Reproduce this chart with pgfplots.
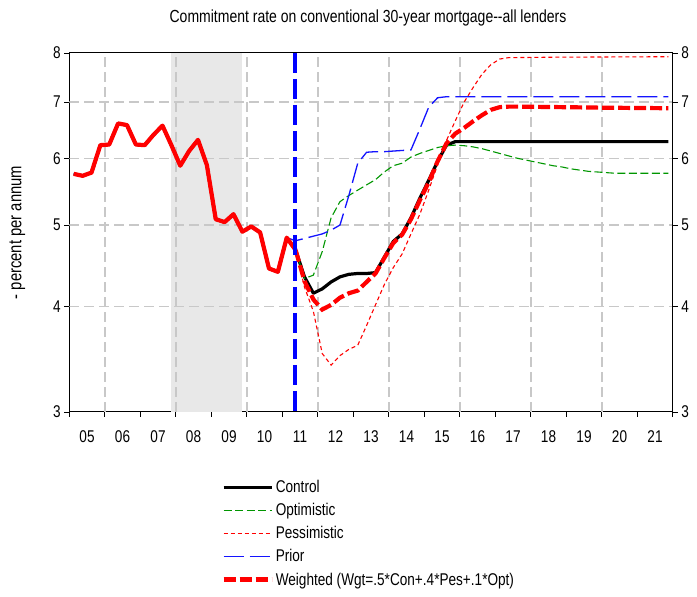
\documentclass[border=0pt]{standalone}
\usepackage{fontspec}
\setmainfont{Liberation Sans}[FakeStretch=0.8]
\usepackage{pgfplots}
\pgfplotsset{compat=1.18}
\definecolor{optgreen}{RGB}{0,150,0}
\definecolor{gridgray}{RGB}{200,200,200}
\definecolor{shadegray}{RGB}{232,232,232}
\definecolor{priorblue}{RGB}{20,20,255}
\begin{document}
\begin{tikzpicture}
\begin{axis}[
  width=603.5pt, height=359pt, scale only axis,
  xmin=2005, xmax=2022, ymin=3, ymax=8, ymode=log,
  xtick={2005,2006,...,2022},
  xticklabels={05,06,07,08,09,10,11,12,13,14,15,16,17,18,19,20,21,{}},
  x tick label as interval,
  minor x tick num=3,
  xtick pos=left, ytick pos=left,
  tick align=outside,
  major tick length=5pt, minor tick length=5pt,
  ytick={3,4,5,6,7,8}, yticklabels={3,4,5,6,7,8},
  yminorticks=false,
  tick style={black, line width=0.8pt},
  axis line style={line width=1pt},
  tick label style={font=\fontsize{17}{17}\selectfont},
  xticklabel style={yshift=-10pt},
  title={Commitment rate on conventional 30-year mortgage{-}{-}all lenders},
  title style={at={(0.5,1)}, anchor=base, yshift=24pt, xshift=-3pt, font=\fontsize{17.5}{17.5}\selectfont},
  ylabel={- percent per annum},
  ylabel style={at={(axis description cs:-0.086,0.5)}, anchor=center, font=\fontsize{18.5}{18.5}\selectfont},
  legend style={at={(0.252,-0.185)}, anchor=north west, draw=none, fill=none, inner sep=0pt,
    font=\fontsize{17}{17}\selectfont, row sep=5.2pt,
    /tikz/every even column/.append style={column sep=2pt}},
  legend cell align=left,
  legend image code/.code={\draw[#1, line cap=butt] (0pt,0pt) -- (48pt,0pt);},
]
% recession shading
\fill[shadegray] (axis cs:2007.875,3) rectangle (axis cs:2009.875,8);
% grid
\foreach \yy in {4,5,6,7} {
  \edef\temp{\noexpand\draw[gridgray, line width=1.5pt, dash pattern=on 10pt off 5pt] (axis cs:2005,\yy) -- (axis cs:2022,\yy);}
  \temp
}
\foreach \xx in {2006,2008,2010,2012,2014,2016,2018,2020} {
  \edef\temp{\noexpand\draw[gridgray, line width=1.5pt, dash pattern=on 10pt off 5pt] (axis cs:\xx,3) -- (axis cs:\xx,8);}
  \temp
}
% Control
\addplot[color=black, line width=3.2pt, line join=round] coordinates {
(2005.125,5.75) (2005.375,5.72) (2005.625,5.77) (2005.875,6.22) (2006.125,6.23) (2006.375,6.60) (2006.625,6.57) (2006.875,6.23) (2007.125,6.22) (2007.375,6.40) (2007.625,6.56) (2007.875,6.22) (2008.125,5.88) (2008.375,6.12) (2008.625,6.31) (2008.875,5.89) (2009.125,5.08) (2009.375,5.04) (2009.625,5.15) (2009.875,4.91) (2010.125,4.98) (2010.375,4.90) (2010.625,4.44) (2010.875,4.40) (2011.125,4.83) (2011.375,4.67)
(2011.625,4.34) (2011.875,4.15) (2012.125,4.20) (2012.375,4.28) (2012.625,4.34) (2012.875,4.37) (2013.125,4.38) (2013.375,4.38) (2013.625,4.39) (2013.875,4.58) (2014.125,4.78) (2014.375,4.88) (2014.625,5.10) (2014.875,5.38) (2015.125,5.65) (2015.375,5.95) (2015.625,6.22) (2015.875,6.28) (2016.125,6.28) (2018.125,6.28) (2020.125,6.28) (2021.875,6.28)
};
\addlegendentry{Control}
% Optimistic
\addplot[color=optgreen, line width=1.1pt, dash pattern=on 8pt off 3.5pt] coordinates {
(2005.125,5.75) (2005.375,5.72) (2005.625,5.77) (2005.875,6.22) (2006.125,6.23) (2006.375,6.60) (2006.625,6.57) (2006.875,6.23) (2007.125,6.22) (2007.375,6.40) (2007.625,6.56) (2007.875,6.22) (2008.125,5.88) (2008.375,6.12) (2008.625,6.31) (2008.875,5.89) (2009.125,5.08) (2009.375,5.04) (2009.625,5.15) (2009.875,4.91) (2010.125,4.98) (2010.375,4.90) (2010.625,4.44) (2010.875,4.40) (2011.125,4.83) (2011.375,4.67)
(2011.625,4.32) (2011.875,4.36) (2012.125,4.65) (2012.375,5.10) (2012.625,5.33) (2012.875,5.42) (2013.125,5.50) (2013.375,5.58) (2013.625,5.66) (2013.875,5.78) (2014.125,5.88) (2014.375,5.92) (2014.625,6.02) (2014.875,6.08) (2015.125,6.13) (2015.375,6.18) (2015.625,6.21) (2015.875,6.22) (2016.125,6.21) (2016.375,6.19) (2016.625,6.16) (2016.875,6.12) (2017.125,6.08) (2017.375,6.04) (2017.625,6.00) (2017.875,5.97) (2018.125,5.94) (2018.375,5.91) (2018.625,5.88) (2018.875,5.86) (2019.125,5.83) (2019.375,5.81) (2019.625,5.79) (2019.875,5.78) (2020.125,5.77) (2020.375,5.76) (2021.875,5.76)
};
\addlegendentry{Optimistic}
% Pessimistic
\addplot[color=red, line width=1.1pt, dash pattern=on 4pt off 3pt] coordinates {
(2005.125,5.75) (2005.375,5.72) (2005.625,5.77) (2005.875,6.22) (2006.125,6.23) (2006.375,6.60) (2006.625,6.57) (2006.875,6.23) (2007.125,6.22) (2007.375,6.40) (2007.625,6.56) (2007.875,6.22) (2008.125,5.88) (2008.375,6.12) (2008.625,6.31) (2008.875,5.89) (2009.125,5.08) (2009.375,5.04) (2009.625,5.15) (2009.875,4.91) (2010.125,4.98) (2010.375,4.90) (2010.625,4.44) (2010.875,4.40) (2011.125,4.83) (2011.375,4.67)
(2011.625,4.22) (2011.875,3.95) (2012.125,3.52) (2012.375,3.41) (2012.625,3.50) (2012.875,3.56) (2013.125,3.60) (2013.375,3.80) (2013.625,4.02) (2013.875,4.25) (2014.125,4.45) (2014.375,4.62) (2014.625,4.88) (2014.875,5.15) (2015.125,5.50) (2015.375,5.90) (2015.625,6.30) (2015.875,6.65) (2016.125,7.00) (2016.375,7.28) (2016.625,7.55) (2016.875,7.75) (2017.125,7.87) (2017.375,7.90) (2018.625,7.91) (2021.875,7.92)
};
\addlegendentry{Pessimistic}
% Prior
\addplot[color=priorblue, line width=1.3pt, dash pattern=on 20pt off 6pt] coordinates {
(2005.125,5.75) (2005.375,5.72) (2005.625,5.77) (2005.875,6.22) (2006.125,6.23) (2006.375,6.60) (2006.625,6.57) (2006.875,6.23) (2007.125,6.22) (2007.375,6.40) (2007.625,6.56) (2007.875,6.22) (2008.125,5.88) (2008.375,6.12) (2008.625,6.31) (2008.875,5.89) (2009.125,5.08) (2009.375,5.04) (2009.625,5.15) (2009.875,4.91) (2010.125,4.98) (2010.375,4.90) (2010.625,4.44) (2010.875,4.40) (2011.125,4.83)
(2011.375,4.79) (2011.625,4.82) (2011.875,4.85) (2012.125,4.88) (2012.375,4.93) (2012.625,5.00) (2012.875,5.42) (2013.125,5.92) (2013.375,6.10) (2013.625,6.11) (2013.875,6.11) (2014.125,6.12) (2014.375,6.13) (2014.625,6.14) (2014.875,6.50) (2015.125,6.90) (2015.375,7.08) (2015.625,7.10) (2021.875,7.10)
};
\addlegendentry{Prior}
% Weighted history (solid)
\addplot[color=red, line width=4.2pt, line join=round, forget plot] coordinates {
(2005.125,5.75) (2005.375,5.72) (2005.625,5.77) (2005.875,6.22) (2006.125,6.23) (2006.375,6.60) (2006.625,6.57) (2006.875,6.23) (2007.125,6.22) (2007.375,6.40) (2007.625,6.56) (2007.875,6.22) (2008.125,5.88) (2008.375,6.12) (2008.625,6.31) (2008.875,5.89) (2009.125,5.08) (2009.375,5.04) (2009.625,5.15) (2009.875,4.91) (2010.125,4.98) (2010.375,4.90) (2010.625,4.44) (2010.875,4.40) (2011.125,4.83) (2011.375,4.67)
};
% Weighted
\addplot[color=red, line width=4.2pt, dash pattern=on 12pt off 4pt] coordinates {
(2011.375,4.67) (2011.625,4.29) (2011.875,4.08) (2012.125,3.97) (2012.375,4.02) (2012.625,4.10) (2012.875,4.15) (2013.125,4.18) (2013.375,4.28) (2013.625,4.38) (2013.875,4.57) (2014.125,4.76) (2014.375,4.87) (2014.625,5.08) (2014.875,5.35) (2015.125,5.62) (2015.375,5.95) (2015.625,6.25) (2015.875,6.42) (2016.125,6.52) (2016.375,6.64) (2016.625,6.75) (2016.875,6.85) (2017.125,6.90) (2017.375,6.91) (2017.625,6.91) (2018.875,6.90) (2020.125,6.89) (2021.875,6.88)
};
\addlegendentry{Weighted (Wgt=.5*Con+.4*Pes+.1*Opt)}
% forecast start line
\addplot[color=blue, line width=3.5pt, dash pattern=on 20pt off 6pt, forget plot] coordinates {(2011.36,8) (2011.36,3)};
\coordinate (O) at (rel axis cs:0,0);
\end{axis}
\begin{axis}[
  width=603.5pt, height=359pt, scale only axis,
  xmin=2005, xmax=2022, ymin=3, ymax=8, ymode=log,
  axis x line=none, axis y line*=right,
  ytick pos=right, yticklabel pos=right,
  tick align=outside, major tick length=5pt,
  ytick={3,4,5,6,7,8}, yticklabels={3,4,5,6,7,8},
  yminorticks=false,
  tick style={black, line width=0.8pt},
  axis line style={line width=1pt, -},
  tick label style={font=\fontsize{17}{17}\selectfont},
]
\end{axis}
\path (O) ++(-69.3pt,-185pt) rectangle ++(697pt,597pt);
\end{tikzpicture}
\end{document}
